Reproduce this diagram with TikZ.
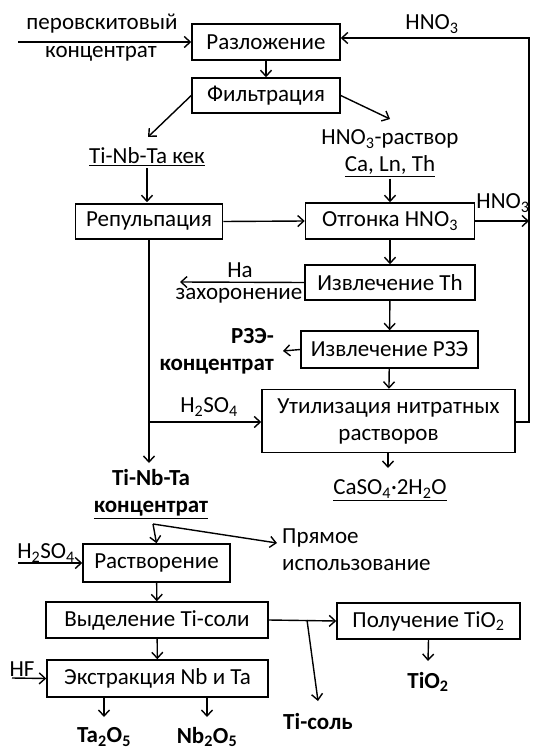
\documentclass[tikz,border=0pt]{standalone}
\usepackage{fontspec}
\setmainfont{Carlito}
\usetikzlibrary{arrows.meta}
\newcommand{\fsz}{\fontsize{23}{27}\selectfont}
\tikzset{
  box/.style={draw, line width=1.5pt, minimum height=36pt, inner sep=2pt, font=\fsz, align=center},
  lbl/.style={inner sep=2pt, font=\fsz},
  blbl/.style={inner sep=2pt, font=\fsz\bfseries},
  arr/.style={line width=1.4pt, -{Straight Barb[length=6pt,width=11pt]}},
  ln/.style={line width=1.4pt}
}
\begin{document}
\begin{tikzpicture}[x=1pt,y=-1pt]
\useasboundingbox (0,0) rectangle (532,751);
% boxes
\node[box, minimum width=148pt] (razl) at (266,42) {Разложение};
\node[box, minimum width=148pt, minimum height=35pt] (filt) at (266,95.5) {Фильтрация};
\node[box, minimum width=147pt, minimum height=35pt] (rep) at (149,221.5) {Репульпация};
\node[box, minimum width=169pt] (otg) at (390,221) {Отгонка HNO\textsubscript{3}};
\node[box, minimum width=170pt, minimum height=35pt] (th) at (390,282.5) {Извлечение Th};
\node[box, minimum width=177pt, minimum height=37pt] (rze) at (389.5,349.5) {Извлечение РЗЭ};
\node[box, minimum width=253pt, minimum height=63pt] (util) at (388.5,421) {Утилизация нитратных\\растворов};
\node[box, minimum width=147pt, minimum height=38pt] (rast) at (156.5,563) {Растворение};
\node[box, minimum width=222pt] (vyd) at (157,620) {Выделение Ti-соли};
\node[box, minimum width=183pt] (pol) at (428.5,621) {Получение TiO\textsubscript{2}};
\node[box, minimum width=221pt, minimum height=37pt] (ekstr) at (157.5,678.5) {Экстракция Nb и Ta};
% texts
\node[lbl] (perov) at (102,24) {перовскитовый};
\node[lbl] (konc1) at (101,54) {концентрат};
\node[lbl] (hno3top) at (432,24) {HNO\textsubscript{3}};
\node[lbl] (kek) at (147,157) {\underline{Ti-Nb-Ta кек}};
\node[lbl] (rastv) at (390,139) {HNO\textsubscript{3}-раствор};
\node[lbl] (caln) at (390,166) {\underline{Ca, Ln, Th}};
\node[lbl] (hno3r) at (503,203) {HNO\textsubscript{3}};
\node[lbl, inner sep=0pt] (na) at (240,270) {На};
\node[lbl, inner sep=0pt] (zah) at (239,296) {захоронение};
\node[blbl, align=right, anchor=east, inner xsep=9pt] (rzec) at (283,351) {РЗЭ-\\концентрат};
\node[lbl] (h2so4a) at (209,407) {H\textsubscript{2}SO\textsubscript{4}};
\node[lbl] (caso) at (390,490) {\underline{CaSO\textsubscript{4}·2H\textsubscript{2}O}};
\node[blbl, align=center] (conc) at (151,494) {Ti-Nb-Ta\\\underline{концентрат}};
\node[lbl, align=left, anchor=west] (pryam) at (280,550) {Прямое\\использование};
\node[lbl] (h2so4b) at (46,553) {H\textsubscript{2}SO\textsubscript{4}};
\node[lbl] (hf) at (22,669) {HF};
\node[blbl] (tisol) at (318,722) {Ti-соль};
\node[blbl] (tio2) at (428,682) {TiO\textsubscript{2}};
\node[blbl] (ta) at (104,737) {Ta\textsubscript{2}O\textsubscript{5}};
\node[blbl] (nb) at (207,737) {Nb\textsubscript{2}O\textsubscript{5}};
% coordinates
\coordinate (in1) at (18,42);
\coordinate (loopTR) at (529,38);
\coordinate (hno3end) at (529,221);
\coordinate (burial) at (180,282);
\coordinate (fork) at (153,524);
\coordinate (in2) at (18,563);
\coordinate (tibr) at (307,620);
\coordinate (in3) at (12,678);
% connectors
\draw[arr] (in1) -- (razl.west |- in1);
\draw[arr] (razl) -- (filt);
\draw[arr] (filt.west) -- (148,137);
\draw[arr, shorten >=1pt] (kek.south) -- (rep.north -| kek.south);
\draw[arr] (filt.east) -- (390,119);
\draw[arr] (caln.south) -- (otg.north);
\draw[arr] (rep.east) -- (otg.west);
\draw[arr] (otg.east) -- (hno3end);
\draw[arr] (util.east |- 0,422) -| (loopTR) -- (loopTR -| razl.east);
\draw[arr] (otg) -- (th);
\draw[arr] (th.west) -- (burial);
\draw[arr] (th) -- (rze);
\draw[arr] (rze.west) -- (rzec.east);
\draw[arr] (rze) -- (util);
\draw[arr] (util.south -| 388,0) -- (388,468);
\draw[ln] (rep.south) -- (rep.south |- 0,422);
\draw[arr] (rep.south |- 0,422) -- (util.west |- 0,422);
\draw[arr] (rep.south |- 0,422) -- (rep.south |- 0,463);
\draw[arr] (fork) -- (rast.north);
\draw[arr] (fork) -- (277,543);
\draw[arr] (in2) -- (rast.west);
\draw[arr] (rast) -- (vyd);
\draw[arr] (vyd.east) -- (pol.west);
\draw[arr] (tibr) -- (318,701);
\draw[arr] (pol.south) -- (428,661);
\draw[arr] (vyd) -- (ekstr);
\draw[arr] (in3) -- (ekstr.west);
\draw[arr] (ekstr.south -| ta) -- (104,717);
\draw[arr] (ekstr.south -| nb) -- (207,717);
\end{tikzpicture}
\end{document}
